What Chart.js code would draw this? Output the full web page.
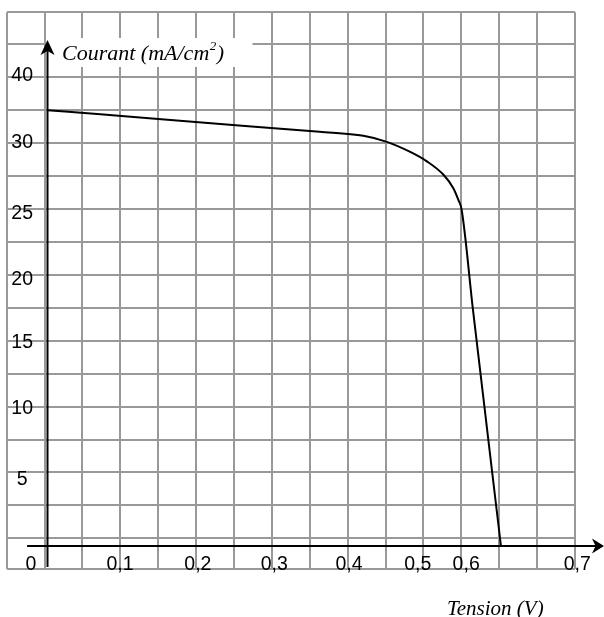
<!DOCTYPE html>
<html>
<head>
<meta charset="utf-8">
<script src="https://cdn.jsdelivr.net/npm/chart.js@4"></script>
<style>
  html, body { margin: 0; padding: 0; background: #fff; }
  canvas { display: block; }
</style>
</head>
<body>
<canvas id="chart" width="604" height="617"></canvas>
<script>
// ==========================
// DATA
// ==========================
const tension = [0, 0.07, 0.20, 0.36, 0.418, 0.449, 0.48, 0.502, 0.524, 0.537, 0.5435, 0.548, 0.563, 0.6];
const courant = [32.4, 32.1, 31.5, 30.8, 30.5, 30.05, 29.3, 28.6, 27.6, 26.6, 25.75, 25.0, 17.55, 0];

// tick labels, and where each one sits on its axis (axis units)
const tensionLabels = ["0", "0,1", "0,2", "0,3", "0,4", "0,5", "0,6", "0,7"];
const tensionLabelAt = [-0.022, 0.096, 0.199, 0.30, 0.399, 0.49, 0.554, 0.701];
const courantLabels = ["5", "10", "15", "20", "25", "30", "40"];
const courantLabelAt = [4.9, 10.2, 15.1, 19.8, 24.7, 30, 35];

// ==========================
// GRID (squared paper, 15 x 17)
// ==========================
const gridCols = [];
for (let i = 0; i <= 15; i++) gridCols.push(i);
const gridRows = [-0.94];
for (let i = 0; i <= 15; i++) gridRows.push(i);
gridRows.push(15.97);

function gridAxis(axis, min, max, values) {
  return {
    type: "linear",
    axis,
    position: axis === "x" ? "bottom" : "left",
    min,
    max,
    afterBuildTicks: (s) => { s.ticks = values.map(v => ({ value: v })); },
    ticks: { display: false },
    border: { display: false },
    grid: { color: "#999", lineWidth: 2, drawTicks: false }
  };
}

// ==========================
// AXES, ARROWS, TEXTS
// ==========================
const drawing = {
  id: "drawing",
  beforeDatasetsDraw(chart) {
    const { ctx, scales: { x, y } } = chart;
    const x0 = x.getPixelForValue(0);
    const y0 = y.getPixelForValue(0);
    ctx.save();

    // white patch behind the y title
    ctx.fillStyle = "#fff";
    ctx.fillRect(x0, 38, 205, 29);

    // axis lines
    ctx.strokeStyle = "#000";
    ctx.lineWidth = 2;
    ctx.beginPath();
    ctx.moveTo(x.getPixelForValue(-0.027), y0);
    ctx.lineTo(chart.width - 8, y0);
    ctx.moveTo(x0, y.getPixelForValue(-1.56));
    ctx.lineTo(x0, 50);
    ctx.stroke();

    // arrowheads
    ctx.fillStyle = "#000";
    ctx.beginPath();
    ctx.moveTo(x0, 40);
    ctx.lineTo(x0 - 7, 55);
    ctx.lineTo(x0, 51);
    ctx.lineTo(x0 + 7, 55);
    ctx.closePath();
    ctx.fill();
    const xe = chart.width;
    ctx.beginPath();
    ctx.moveTo(xe, y0);
    ctx.lineTo(xe - 12, y0 - 7.5);
    ctx.lineTo(xe - 8.5, y0);
    ctx.lineTo(xe - 12, y0 + 7.5);
    ctx.closePath();
    ctx.fill();

    // axis titles
    ctx.textBaseline = "alphabetic";
    ctx.textAlign = "left";
    ctx.font = 'italic 22px "Liberation Serif", "Times New Roman", serif';
    const t1 = "Courant (mA/cm";
    ctx.fillText(t1, 62, 59.5);
    let tx = 62 + ctx.measureText(t1).width;
    ctx.font = 'italic 13px "Liberation Serif", "Times New Roman", serif';
    ctx.fillText("2", tx + 0.5, 50);
    tx += ctx.measureText("2").width + 1;
    ctx.font = 'italic 22px "Liberation Serif", "Times New Roman", serif';
    ctx.fillText(")", tx, 59.5);

    ctx.font = 'italic 21px "Liberation Serif", "Times New Roman", serif';
    ctx.fillText("Tension (V)", 447, 615);

    // tick labels
    ctx.font = '19.5px "Liberation Sans", Arial, sans-serif';
    ctx.textAlign = "center";
    ctx.textBaseline = "middle";
    const labelRow = y.getPixelForValue(-1.35);
    tensionLabels.forEach((lab, i) => {
      ctx.fillText(lab, x.getPixelForValue(tensionLabelAt[i]), labelRow);
    });
    const labelCol = x.getPixelForValue(-0.0335);
    courantLabels.forEach((lab, i) => {
      ctx.fillText(lab, labelCol, y.getPixelForValue(courantLabelAt[i]));
    });

    ctx.restore();
  }
};

// ==========================
// CHART
// ==========================
const ctx = document.getElementById("chart").getContext("2d");

const chart = new Chart(ctx, {
  type: "scatter",
  data: {
    datasets: [{
      data: tension.map((v, i) => ({ x: v, y: courant[i] })),
      showLine: true,
      borderColor: "#000",
      borderWidth: 2,
      pointRadius: 0,
      cubicInterpolationMode: "monotone",
      xAxisID: "x",
      yAxisID: "y"
    }]
  },
  options: {
    responsive: false,
    devicePixelRatio: 1,
    animation: false,
    layout: { padding: { left: 6.7, top: 12.3, right: 29, bottom: 47.7 } },
    plugins: {
      legend: { display: false },
      tooltip: { enabled: false }
    },
    scales: {
      gx: gridAxis("x", 0, 15, gridCols),
      gy: gridAxis("y", -0.94, 15.97, gridRows),
      x: { type: "linear", min: -0.054, max: 0.698, display: false },
      y: { type: "linear", min: -1.732, max: 39.68, display: false }
    }
  },
  plugins: [drawing]
});
</script>
</body>
</html>
